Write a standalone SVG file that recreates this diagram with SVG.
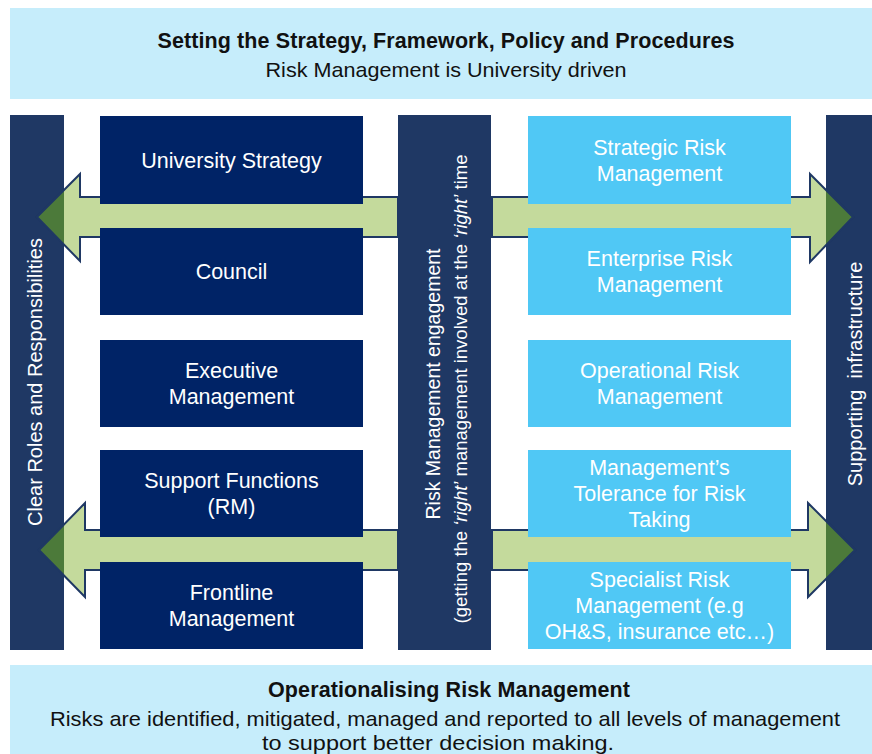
<svg xmlns="http://www.w3.org/2000/svg" width="872" height="754" viewBox="0 0 872 754">
  <defs>
    <style>
      .band { fill: #c6edfb; }
      .band-title { font-family: "Liberation Sans", Arial, sans-serif; font-weight: bold; font-size: 21.5px; fill: #111; text-anchor: middle; }
      .band-text { font-family: "Liberation Sans", Arial, sans-serif; font-size: 21px; fill: #111; text-anchor: middle; }
      .pillar { fill: #1f3864; }
      .pillar-text { font-family: "Liberation Sans", Arial, sans-serif; fill: #ffffff; text-anchor: middle; }
      .dark { fill: #002366; }
      .light { fill: #50c8f5; }
      .box-text { font-family: "Liberation Sans", Arial, sans-serif; font-size: 21.5px; fill: #ffffff; text-anchor: middle; }
      .shaft { fill: #c4da9c; stroke: #1f3864; stroke-width: 2; stroke-linejoin: miter; }
      .shaft-dark { fill: #4c7a3a; stroke: #1f3864; stroke-width: 2; }
    </style>
    <clipPath id="side-pillars">
      <rect x="10" y="115" width="54" height="535"/>
      <rect x="826" y="115" width="46" height="535"/>
    </clipPath>
    <polygon id="arrow-tl" points="398,197 80,197 80,174 37,217 80,261 80,237 398,237"/>
    <polygon id="arrow-bl" points="398,530 85,530 85,503 39,550 85,597 85,570 398,570"/>
    <polygon id="arrow-tr" points="492,197 810,197 810,174 853,217 810,262 810,237 492,237"/>
    <polygon id="arrow-br" points="492,530 808,530 808,503 855,550 808,597 808,570 492,570"/>
  </defs>

  <rect width="872" height="754" fill="#ffffff"/>

  <!-- top band -->
  <g id="strategy-band">
    <rect class="band" x="10" y="8" width="862" height="91"/>
    <text class="band-title" x="446" y="48" textLength="577" lengthAdjust="spacing">Setting the Strategy, Framework, Policy and Procedures</text>
    <text class="band-text" x="446" y="77" textLength="361" lengthAdjust="spacingAndGlyphs">Risk Management is University driven</text>
  </g>

  <!-- side pillars (under the arrows) -->
  <g id="roles-pillar">
    <rect class="pillar" x="10" y="115" width="54" height="535"/>
  </g>
  <g id="infrastructure-pillar">
    <rect class="pillar" x="826" y="115" width="46" height="535"/>
  </g>

  <!-- block arrows running out to the side pillars -->
  <g id="connectors">
    <use href="#arrow-tl" class="shaft"/>
    <use href="#arrow-bl" class="shaft"/>
    <use href="#arrow-tr" class="shaft"/>
    <use href="#arrow-br" class="shaft"/>
    <g clip-path="url(#side-pillars)">
      <use href="#arrow-tl" class="shaft-dark"/>
      <use href="#arrow-bl" class="shaft-dark"/>
      <use href="#arrow-tr" class="shaft-dark"/>
      <use href="#arrow-br" class="shaft-dark"/>
    </g>
  </g>

  <!-- pillar labels -->
  <g id="roles-label">
    <text class="pillar-text" font-size="20" transform="translate(42,382) rotate(-90)">Clear Roles and Responsibilities</text>
  </g>
  <g id="infrastructure-label">
    <text class="pillar-text" font-size="20" transform="translate(862,374) rotate(-90)" xml:space="preserve">Supporting  infrastructure</text>
  </g>

  <!-- central engagement pillar -->
  <g id="engagement-pillar">
    <rect class="pillar" x="398" y="115" width="93" height="535"/>
    <text class="pillar-text" font-size="19.5" transform="translate(440,384) rotate(-90)">Risk Management engagement</text>
    <text class="pillar-text" font-size="18.5" transform="translate(467,389) rotate(-90)">(getting the <tspan font-style="italic">‘right’</tspan> management involved at the <tspan font-style="italic">‘right’</tspan> time</text>
  </g>

  <!-- left stack: governance levels -->
  <g id="university-strategy">
    <rect class="dark" x="100" y="116" width="263" height="88"/>
    <text class="box-text" x="231.5" y="167.5">University Strategy</text>
  </g>
  <g id="council">
    <rect class="dark" x="100" y="228" width="263" height="87"/>
    <text class="box-text" x="231.5" y="279">Council</text>
  </g>
  <g id="executive-management">
    <rect class="dark" x="100" y="340" width="263" height="87"/>
    <text class="box-text" x="231.5" y="378">Executive</text>
    <text class="box-text" x="231.5" y="404">Management</text>
  </g>
  <g id="support-functions">
    <rect class="dark" x="100" y="450" width="263" height="87"/>
    <text class="box-text" x="231.5" y="488">Support Functions</text>
    <text class="box-text" x="231.5" y="514">(RM)</text>
  </g>
  <g id="frontline-management">
    <rect class="dark" x="100" y="562" width="263" height="87"/>
    <text class="box-text" x="231.5" y="600">Frontline</text>
    <text class="box-text" x="231.5" y="626">Management</text>
  </g>

  <!-- right stack: risk management layers -->
  <g id="strategic-risk">
    <rect class="light" x="528" y="116" width="263" height="88"/>
    <text class="box-text" x="659.5" y="154.5">Strategic Risk</text>
    <text class="box-text" x="659.5" y="180.5">Management</text>
  </g>
  <g id="enterprise-risk">
    <rect class="light" x="528" y="228" width="263" height="87"/>
    <text class="box-text" x="659.5" y="266">Enterprise Risk</text>
    <text class="box-text" x="659.5" y="292">Management</text>
  </g>
  <g id="operational-risk">
    <rect class="light" x="528" y="340" width="263" height="87"/>
    <text class="box-text" x="659.5" y="378">Operational Risk</text>
    <text class="box-text" x="659.5" y="404">Management</text>
  </g>
  <g id="risk-tolerance">
    <rect class="light" x="528" y="450" width="263" height="87"/>
    <text class="box-text" x="659.5" y="475">Management’s</text>
    <text class="box-text" x="659.5" y="501">Tolerance for Risk</text>
    <text class="box-text" x="659.5" y="527">Taking</text>
  </g>
  <g id="specialist-risk">
    <rect class="light" x="528" y="562" width="263" height="87"/>
    <text class="box-text" x="659.5" y="587">Specialist Risk</text>
    <text class="box-text" x="659.5" y="613">Management (e.g</text>
    <text class="box-text" x="659.5" y="639">OH&amp;S, insurance etc…)</text>
  </g>

  <!-- bottom band -->
  <g id="operational-band">
    <rect class="band" x="10" y="665" width="862" height="89"/>
    <text class="band-title" x="449" y="697" textLength="362" lengthAdjust="spacing">Operationalising Risk Management</text>
    <text class="band-text" x="445" y="726" font-size="22" textLength="790" lengthAdjust="spacingAndGlyphs">Risks are identified, mitigated, managed and reported to all levels of management</text>
    <text class="band-text" x="438" y="750" font-size="22" textLength="352" lengthAdjust="spacingAndGlyphs">to support better decision making.</text>
  </g>
</svg>
